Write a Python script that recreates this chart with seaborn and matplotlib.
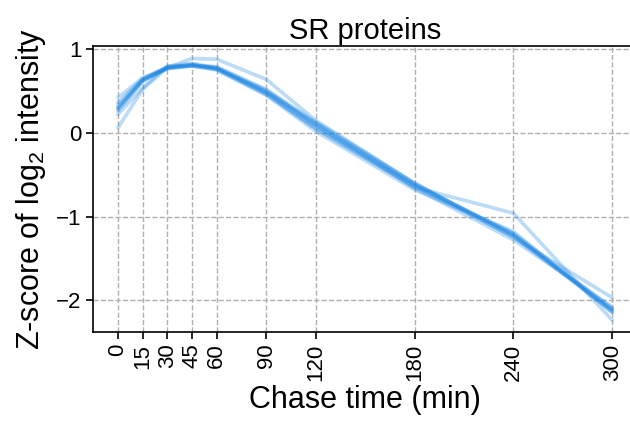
import pandas as pd
import matplotlib
matplotlib.use('Agg')
import matplotlib.pyplot as plt
import seaborn as sns

sns.set_style('ticks')
plt.rcParams['font.family'] = ['Liberation Sans', 'DejaVu Sans']
plt.rcParams['mathtext.fontset'] = 'custom'
plt.rcParams['mathtext.rm'] = 'Liberation Sans'
plt.rcParams['mathtext.it'] = 'Liberation Sans:italic'
plt.rcParams['text.color'] = 'black'
plt.rcParams['axes.labelcolor'] = 'black'
plt.rcParams['xtick.color'] = 'black'
plt.rcParams['ytick.color'] = 'black'

# chase time points (min)
times = [0, 15, 30, 45, 60, 90, 120, 180, 240, 300]

# z-scored log2 intensity per SR protein
sr_a = [0.06, 0.52, 0.78, 0.89, 0.88, 0.64, 0.15, -0.60, -1.25, -1.97]
sr_b = [0.30, 0.62, 0.77, 0.80, 0.76, 0.47, 0.05, -0.65, -0.96, -2.24]
sr_c = [0.42, 0.66, 0.78, 0.82, 0.77, 0.50, 0.10, -0.62, -1.22, -2.12]
sr_d = [0.36, 0.64, 0.79, 0.81, 0.78, 0.48, 0.08, -0.63, -1.20, -2.10]
sr_e = [0.30, 0.63, 0.77, 0.82, 0.76, 0.46, 0.06, -0.64, -1.24, -2.13]
sr_f = [0.26, 0.62, 0.78, 0.80, 0.77, 0.49, 0.12, -0.61, -1.21, -2.14]
sr_g = [0.22, 0.54, 0.80, 0.83, 0.78, 0.51, 0.10, -0.66, -1.28, -2.08]
sr_h = [0.33, 0.65, 0.77, 0.80, 0.75, 0.45, 0.02, -0.68, -1.18, -2.15]
sr_i = [0.28, 0.63, 0.79, 0.81, 0.79, 0.52, 0.13, -0.60, -1.23, -2.11]

proteins = {'A': sr_a, 'B': sr_b, 'C': sr_c, 'D': sr_d, 'E': sr_e,
            'F': sr_f, 'G': sr_g, 'H': sr_h, 'I': sr_i}

rows = []
for name, vals in proteins.items():
    for t, v in zip(times, vals):
        rows.append({'protein': name, 'time': t, 'z': v})
df = pd.DataFrame(rows)

fig = plt.figure(figsize=(6.3, 4.25), dpi=100)
ax = fig.add_axes([0.148, 0.219, 0.863, 0.673])

sns.lineplot(data=df, x='time', y='z', units='protein', estimator=None,
             color='#1E88E5', alpha=0.3, linewidth=2.6, ax=ax)

ax.set_axisbelow(True)
ax.grid(True, linestyle='--', color='#b0b0b0', linewidth=1)
ax.set_xlim(-15, 315)
ax.set_ylim(-2.38, 1.04)
ax.set_xticks(times)
ax.set_xticklabels([str(t) for t in times], rotation=90)
ax.set_yticks([-2, -1, 0, 1])
ax.tick_params(labelsize=16, length=5, width=1.2)
for s in ax.spines.values():
    s.set_linewidth(1.2)
    s.set_color('black')

ax.set_title('SR proteins', fontsize=21, pad=5)
ax.set_xlabel('Chase time (min)', fontsize=22, labelpad=3)
ax.set_ylabel('Z-score of log$_2$ intensity', fontsize=22, labelpad=6)

plt.savefig('out.png', dpi=100)
plt.close()
